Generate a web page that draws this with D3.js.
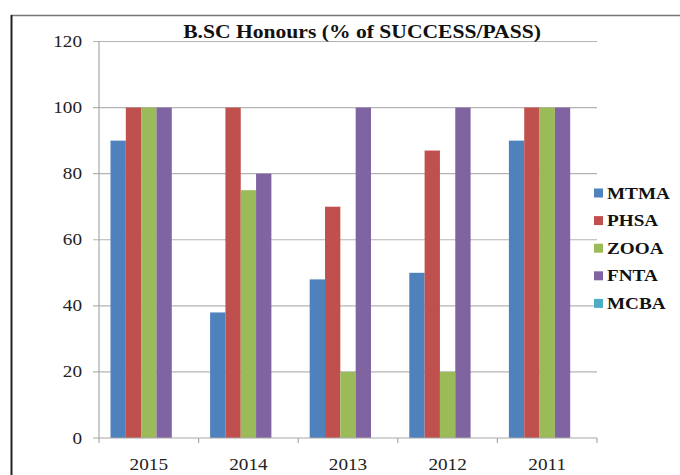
<!DOCTYPE html>
<html><head><meta charset="utf-8">
<script src="https://cdn.jsdelivr.net/npm/d3@7"></script>
<style>html,body{margin:0;padding:0;background:#fff}svg{display:block}</style>
</head><body>
<script>
const categories = ["2015", "2014", "2013", "2012", "2011"];
const seriesNames = ["MTMA", "PHSA", "ZOOA", "FNTA", "MCBA"];
const MTMA = [90, 38, 48, 50, 90];
const PHSA = [100, 100, 70, 87, 100];
const ZOOA = [100, 75, 20, 20, 100];
const FNTA = [100, 80, 100, 100, 100];
const MCBA = [0, 0, 0, 0, 0];
const yTicks = [0, 20, 40, 60, 80, 100, 120];
const title = "B.SC Honours (% of SUCCESS/PASS)";
const colors = ["#4F81BD", "#C0504D", "#9BBB59", "#8064A2", "#4BACC6"];

const seriesValues = [MTMA, PHSA, ZOOA, FNTA, MCBA];
const W = 680, H = 475, SX = 1.2;
const svg = d3.select("body").append("svg").attr("width", W).attr("height", H);

// frame
svg.append("line").attr("x1", 11).attr("x2", W).attr("y1", 15.5).attr("y2", 15.5).attr("stroke", "#777").attr("stroke-width", 1.5);
svg.append("line").attr("x1", 11.5).attr("x2", 11.5).attr("y1", 15).attr("y2", H).attr("stroke", "#222").attr("stroke-width", 2);

const x = d3.scaleBand().domain(categories).range([99, 597]).paddingInner(0).paddingOuter(0);
const bw = x.bandwidth();
const groupW = bw * 5 / 6.5;
const x1 = d3.scaleBand().domain(seriesNames).range([(bw - groupW) / 2, (bw + groupW) / 2]);
const y = d3.scaleLinear().domain([0, 120]).range([438, 41.5]);

// gridlines
svg.append("g").selectAll("line").data(yTicks.filter(t => t > 0)).join("line")
  .attr("x1", 93).attr("x2", 597).attr("y1", d => y(d)).attr("y2", d => y(d))
  .attr("stroke", "#b4b4b4").attr("stroke-width", 1.2);

// bars
const rows = categories.map((c, i) => ({c, vals: seriesNames.map((s, j) => ({s, j, v: seriesValues[j][i]}))}));
const g = svg.append("g").selectAll("g").data(rows).join("g").attr("transform", d => `translate(${x(d.c)},0)`);
g.selectAll("rect").data(d => d.vals).join("rect")
  .attr("x", d => x1(d.s)).attr("width", x1.bandwidth())
  .attr("y", d => y(d.v)).attr("height", d => y(0) - y(d.v))
  .attr("fill", d => colors[d.j]);

// axes lines
svg.append("line").attr("x1", 99).attr("x2", 99).attr("y1", y(120)).attr("y2", y(0)).attr("stroke", "#a8a8a8").attr("stroke-width", 1.2);
svg.append("line").attr("x1", 93).attr("x2", 597).attr("y1", y(0)).attr("y2", y(0)).attr("stroke", "#a8a8a8").attr("stroke-width", 1.2);
// x ticks at band edges
const edges = categories.map(c => x(c)).concat([x(categories[categories.length - 1]) + bw]);
svg.append("g").selectAll("line").data(edges).join("line")
  .attr("x1", d => d).attr("x2", d => d).attr("y1", y(0)).attr("y2", y(0) + 5)
  .attr("stroke", "#a8a8a8").attr("stroke-width", 1.2);

const font = "'Liberation Serif','Times New Roman',serif";
// y labels
svg.append("g").selectAll("text").data(yTicks).join("text")
  .attr("transform", d => `translate(82,${y(d) + 5.5}) scale(${SX},1)`)
  .attr("text-anchor", "end").attr("font-family", font).attr("font-size", 16).attr("fill", "#222")
  .text(d => d);
// x labels
svg.append("g").selectAll("text").data(categories).join("text")
  .attr("transform", d => `translate(${x(d) + bw / 2},${470}) scale(${SX},1)`)
  .attr("text-anchor", "middle").attr("font-family", font).attr("font-size", 16).attr("fill", "#222")
  .text(d => d);
// title
svg.append("text").attr("transform", `translate(362,37.5) scale(${SX},1)`)
  .attr("text-anchor", "middle").attr("font-family", font).attr("font-size", 18).attr("font-weight", "bold").attr("fill", "#111")
  .text(title);

// legend
const lg = svg.append("g").selectAll("g").data(seriesNames).join("g")
  .attr("transform", (d, i) => `translate(594,${193 + i * 27.6})`);
lg.append("rect").attr("x", 0).attr("y", -4.5).attr("width", 9).attr("height", 9).attr("fill", (d, i) => colors[i]);
lg.append("text").attr("transform", `translate(13,5.5) scale(${SX},1)`)
  .attr("font-family", font).attr("font-size", 16).attr("font-weight", "bold").attr("fill", "#111")
  .text(d => d);
</script>
</body></html>
